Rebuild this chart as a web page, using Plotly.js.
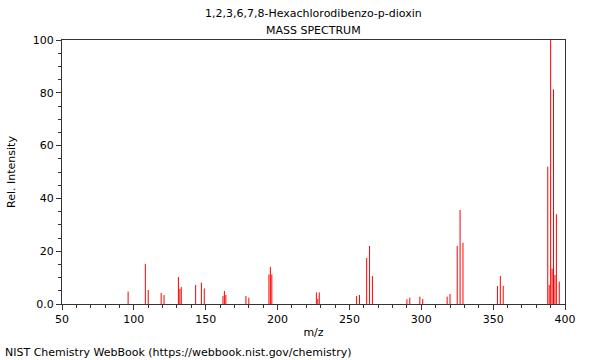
<!DOCTYPE html>
<html>
<head>
<meta charset="utf-8">
<script src="https://cdn.plot.ly/plotly-3.0.1.min.js"></script>
<style>html,body{margin:0;padding:0;background:#fff}#chart{width:600px;height:360px}</style>
</head>
<body>
<div id="chart"></div>
<script>
const chartTitle = "1,2,3,6,7,8-Hexachlorodibenzo-p-dioxin";
const chartSubtitle = "MASS SPECTRUM";
const xLabel = "m/z";
const yLabel = "Rel. Intensity";
const footer = "NIST Chemistry WebBook (https://webbook.nist.gov/chemistry)";

const mz = [96,108,110,119,121,131,132,133,143,147,149,162,163,164,178,180,194,195,196,
            227,228,229,255,257,262,264,266,290,292,299,301,318,320,325,327,329,353,355,357,
            388,389,390,391,392,393,394,396];
const intensity = [4.7,15.2,5.3,4.2,3.4,10.2,5.7,6.4,7.2,8.1,5.9,3.0,4.9,3.4,3.0,2.4,11.2,14.0,11.2,
            4.4,1.9,4.4,3.0,3.4,17.4,22.0,10.6,1.8,2.4,2.8,1.9,2.8,3.8,22.0,35.6,23.2,6.8,10.6,6.9,
            52.0,7.2,100,13.4,81.3,11.0,34.0,8.5];

const xTickVals = [50,100,150,200,250,300,350,400];
const yTickVals = [0,20,40,60,80,100];
const yTickText = ["0.0","20","40","60","80","100"];

// build stick segments from the arrays
const sx = [], sy = [];
for (let i = 0; i < mz.length; i++) {
  sx.push(mz[i], mz[i], null);
  sy.push(0, intensity[i], null);
}

const font = {family: "DejaVu Sans, sans-serif", size: 11, color: "#000"};

const trace = {
  type: "scatter", mode: "lines", x: sx, y: sy,
  line: {color: "rgb(255,0,0)", width: 1},
  hoverinfo: "skip", showlegend: false
};

const layout = {
  width: 600, height: 360,
  margin: {l: 62, r: 35, t: 40, b: 56, pad: 0},
  paper_bgcolor: "#fff", plot_bgcolor: "#fff",
  font: font,
  showlegend: false,
  xaxis: {
    range: [50, 400], tickvals: xTickVals, ticks: "outside", ticklen: 5, tickwidth: 1,
    tickcolor: "#333", showline: true, linecolor: "#333", linewidth: 1, mirror: true,
    showgrid: false, zeroline: false, tickfont: font,
    minor: {dtick: 10, ticks: "outside", ticklen: 3, tickcolor: "#333", showgrid: false},
    title: {text: xLabel, font: font, standoff: 3}
  },
  yaxis: {
    range: [0, 100], tickvals: yTickVals, ticktext: yTickText, ticks: "outside", ticklen: 5,
    tickwidth: 1, tickcolor: "#333", showline: true, linecolor: "#333", linewidth: 1, mirror: true,
    showgrid: false, zeroline: false, tickfont: font,
    minor: {dtick: 5, ticks: "outside", ticklen: 3, tickcolor: "#333", showgrid: false},
    title: {text: yLabel, font: font, standoff: 14}
  },
  annotations: [
    {text: chartTitle, xref: "paper", yref: "paper", x: 0.5, y: 1, yshift: 27,
     xanchor: "center", yanchor: "middle", showarrow: false, font: font},
    {text: chartSubtitle, xref: "paper", yref: "paper", x: 0.5, y: 1, yshift: 10,
     xanchor: "center", yanchor: "middle", showarrow: false, font: font},
    {text: footer, xref: "paper", yref: "paper", x: 0, y: 0, xshift: -59, yshift: -48,
     xanchor: "left", yanchor: "middle", showarrow: false, font: font}
  ]
};

Plotly.newPlot("chart", [trace], layout, {staticPlot: true, displayModeBar: false});
</script>
</body>
</html>
